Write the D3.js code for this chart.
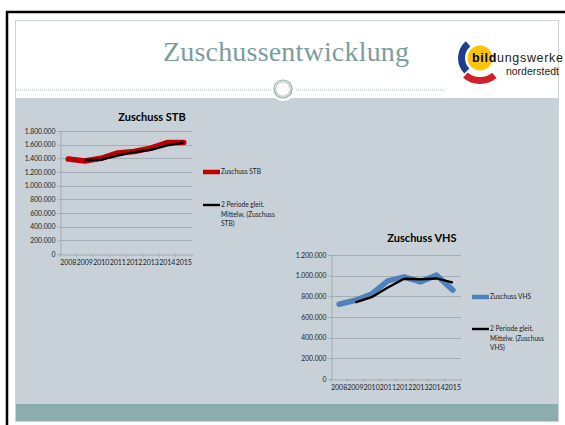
<!DOCTYPE html>
<html>
<head>
<meta charset="utf-8">
<script src="https://cdn.jsdelivr.net/npm/d3@7"></script>
<style>
  body { margin: 0; background: #fff; }
  svg { display: block; }
  text { font-family: Lato, "Open Sans", sans-serif; }
</style>
</head>
<body>
<script>
var years = ["2008", "2009", "2010", "2011", "2012", "2013", "2014", "2015"];

var stbValues = [1390000, 1360000, 1400000, 1480000, 1500000, 1550000, 1630000, 1630000];
var stbAverage = [null, 1375000, 1380000, 1440000, 1490000, 1525000, 1590000, 1630000];
var stbTicks = [0, 200000, 400000, 600000, 800000, 1000000, 1200000, 1400000, 1600000, 1800000];

var vhsValues = [723000, 762000, 823000, 950000, 989000, 940000, 1005000, 860000];
var vhsAverage = [null, 742000, 792000, 886000, 970000, 965000, 973000, 933000];
var vhsTicks = [0, 200000, 400000, 600000, 800000, 1000000, 1200000];

var W = 565, H = 425;

var svg = d3.select("body").append("svg")
    .attr("width", W)
    .attr("height", H);

// slide frame
svg.append("rect")
    .attr("x", 7).attr("y", 12)
    .attr("width", 600).attr("height", 450)
    .attr("fill", "none")
    .attr("stroke", "#000")
    .attr("stroke-width", 2.5);

svg.append("rect")
    .attr("x", 15.5).attr("y", 20.5)
    .attr("width", 543).attr("height", 401)
    .attr("fill", "#fff")
    .attr("stroke", "#c9d4d8");

svg.append("rect")
    .attr("x", 16).attr("y", 98)
    .attr("width", 542).attr("height", 306)
    .attr("fill", "#c7d1d7");

svg.append("rect")
    .attr("x", 16).attr("y", 404)
    .attr("width", 542).attr("height", 17)
    .attr("fill", "#8badad");

// header
svg.append("text")
    .attr("x", 286).attr("y", 61)
    .attr("text-anchor", "middle")
    .attr("textLength", 246)
    .style("font-family", "Georgia, 'Liberation Serif', 'DejaVu Serif', serif")
    .style("font-size", "28px")
    .attr("fill", "#7d9c9c")
    .text("Zuschussentwicklung");

svg.append("line")
    .attr("x1", 16).attr("x2", 445)
    .attr("y1", 90).attr("y2", 90)
    .attr("stroke", "#aab8bb")
    .attr("stroke-width", 1)
    .attr("stroke-dasharray", "1,1");

svg.append("circle")
    .attr("cx", 283).attr("cy", 89).attr("r", 12)
    .attr("fill", "#fff");
svg.append("circle")
    .attr("cx", 283).attr("cy", 89).attr("r", 9)
    .attr("fill", "none").attr("stroke", "#8fa9a9").attr("stroke-width", 1.2);
svg.append("circle")
    .attr("cx", 283).attr("cy", 89).attr("r", 7.3)
    .attr("fill", "none").attr("stroke", "#8fa9a9").attr("stroke-width", 0.8);

// logo
var logo = svg.append("g").attr("transform", "translate(480,58)");
var arc = d3.arc();
logo.append("path")
    .attr("d", arc({innerRadius: 15, outerRadius: 22, startAngle: -2.35, endAngle: -0.7}))
    .attr("fill", "#1e3d8f");
logo.append("path")
    .attr("d", arc({innerRadius: 19, outerRadius: 26, startAngle: 2.45, endAngle: 3.85}))
    .attr("fill", "#d0202a");
logo.append("circle").attr("r", 12.5).attr("fill", "#fbc40b");

var logoText = svg.append("text")
    .attr("x", 472).attr("y", 62)
    .attr("textLength", 91)
    .style("font-family", "'Liberation Sans', Arial, sans-serif")
    .style("font-size", "12.5px")
    .attr("fill", "#222");
logoText.append("tspan").attr("font-weight", "bold").attr("fill", "#000").text("bild");
logoText.append("tspan").text("ungswerke");

svg.append("text")
    .attr("x", 559).attr("y", 75)
    .attr("text-anchor", "end")
    .style("font-family", "'Liberation Sans', Arial, sans-serif")
    .style("font-size", "10.5px")
    .attr("fill", "#222")
    .text("norderstedt");

var fmt = function (d) { return d3.format(",")(d).replace(/,/g, "."); };

function drawChart(opts) {
  var g = svg.append("g");

  var x = d3.scaleBand()
      .domain(years)
      .range([opts.left, opts.right]);

  var y = d3.scaleLinear()
      .domain([0, d3.max(opts.ticks)])
      .range([opts.bottom, opts.top]);

  g.append("text")
      .attr("x", opts.titleX).attr("y", opts.titleY)
      .attr("text-anchor", "middle")
      .attr("font-weight", "bold")
      .style("font-size", "11px")
      .attr("fill", "#000")
      .text(opts.title);

  // gridlines
  g.selectAll(".grid")
    .data(opts.ticks.slice(1))
    .enter()
    .append("line")
      .attr("x1", opts.left).attr("x2", opts.right)
      .attr("y1", function (d) { return Math.round(y(d)) + 0.5; })
      .attr("y2", function (d) { return Math.round(y(d)) + 0.5; })
      .attr("stroke", "#98a3a9")
      .attr("stroke-width", 0.8);

  var yAxis = g.append("g")
      .attr("transform", "translate(" + (opts.left + 0.5) + ",0)")
      .call(d3.axisLeft(y).tickValues(opts.ticks).tickFormat(fmt).tickSize(3).tickPadding(2));

  var xAxis = g.append("g")
      .attr("transform", "translate(0," + (Math.round(opts.bottom) + 0.5) + ")")
      .call(d3.axisBottom(x).tickSize(0).tickPadding(6));

  // category boundary ticks
  g.selectAll(".xtick")
    .data(d3.range(years.length + 1))
    .enter()
    .append("line")
      .attr("x1", function (i) { return opts.left + i * x.step(); })
      .attr("x2", function (i) { return opts.left + i * x.step(); })
      .attr("y1", opts.bottom).attr("y2", opts.bottom + 3)
      .attr("stroke", "#98a3a9")
      .attr("stroke-width", 0.8);

  [yAxis, xAxis].forEach(function (a) {
    a.select(".domain").attr("stroke", "#98a3a9").attr("stroke-width", 0.8);
    a.selectAll(".tick line").attr("stroke", "#98a3a9").attr("stroke-width", 0.8);
    a.selectAll("text")
      .attr("fill", "#222")
      .style("font-family", "Lato, sans-serif")
      .style("font-size", "6.8px");
  });
  xAxis.selectAll("text").style("font-size", "7px");

  var line = d3.line()
      .defined(function (d) { return d != null; })
      .x(function (d, i) { return x(years[i]) + x.bandwidth() / 2; })
      .y(function (d) { return y(d); });

  g.append("path")
      .datum(opts.values)
      .attr("d", line)
      .attr("fill", "none")
      .attr("stroke", opts.color)
      .attr("stroke-width", 5.5)
      .attr("stroke-linejoin", "round")
      .attr("stroke-linecap", "round");

  g.append("path")
      .datum(opts.average)
      .attr("d", line)
      .attr("fill", "none")
      .attr("stroke", "#000")
      .attr("stroke-width", 2.4)
      .attr("stroke-linejoin", "round");

  // legend
  var lx = opts.legendX, ly1 = opts.legendY1, ly2 = opts.legendY2;
  g.append("line")
      .attr("x1", lx).attr("x2", lx + 17)
      .attr("y1", ly1).attr("y2", ly1)
      .attr("stroke", opts.color).attr("stroke-width", 4.5);
  g.append("text")
      .attr("x", lx + 18).attr("y", ly1 + 2.3)
      .style("font-size", "6.6px").attr("fill", "#222")
      .text(opts.legend);
  g.append("line")
      .attr("x1", lx).attr("x2", lx + 17)
      .attr("y1", ly2).attr("y2", ly2)
      .attr("stroke", "#000").attr("stroke-width", 2.4);
  g.selectAll(".leg2")
    .data(opts.legend2)
    .enter()
    .append("text")
      .attr("x", lx + 18)
      .attr("y", function (d, i) { return ly2 + 2.3 + i * 9.5; })
      .style("font-size", "6.6px").attr("fill", "#222")
      .text(function (d) { return d; });
}

drawChart({
  title: "Zuschuss STB", titleX: 152, titleY: 121,
  left: 60, right: 192, top: 131, bottom: 254,
  ticks: stbTicks, values: stbValues, average: stbAverage,
  color: "#c00000",
  legend: "Zuschuss STB",
  legend2: ["2 Periode gleit.", "Mittelw. (Zuschuss", "STB)"],
  legendX: 203, legendY1: 172, legendY2: 205
});

drawChart({
  title: "Zuschuss VHS", titleX: 422, titleY: 242,
  left: 331, right: 461, top: 255, bottom: 379,
  ticks: vhsTicks, values: vhsValues, average: vhsAverage,
  color: "#4f81bd",
  legend: "Zuschuss VHS",
  legend2: ["2 Periode gleit.", "Mittelw. (Zuschuss", "VHS)"],
  legendX: 472, legendY1: 297, legendY2: 329
});
</script>
</body>
</html>
